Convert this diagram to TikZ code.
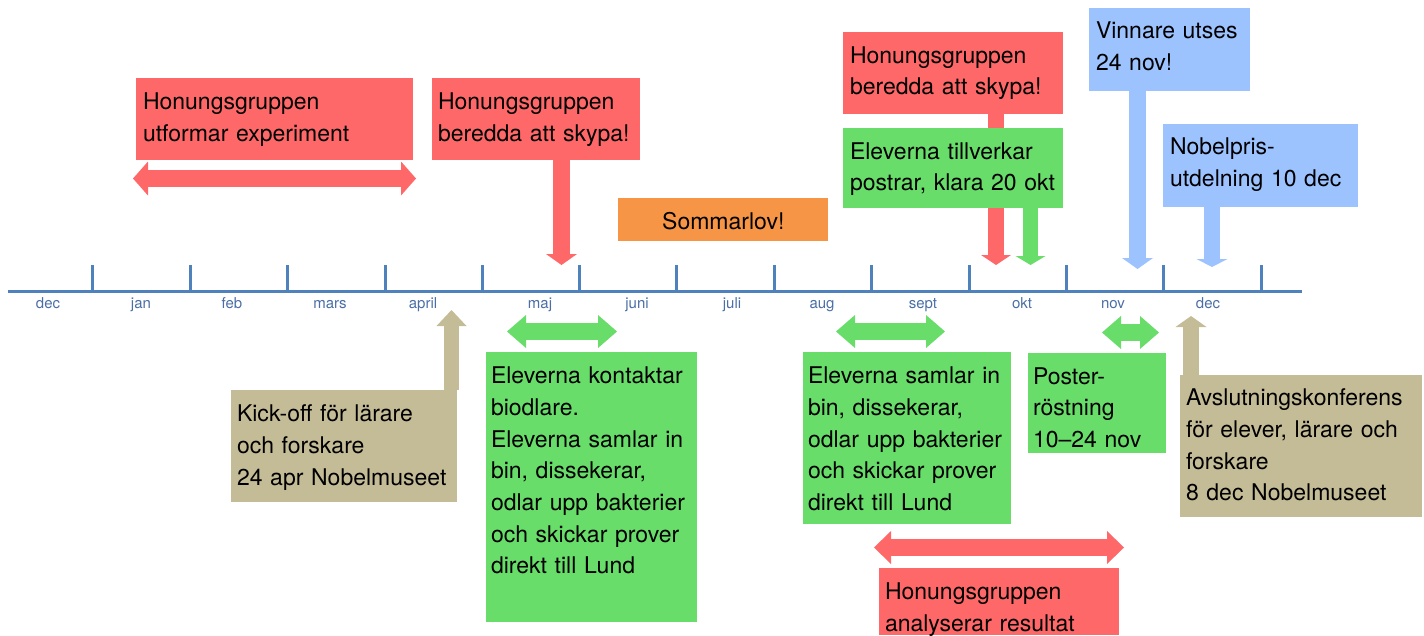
\documentclass[tikz,border=0pt]{standalone}
\usepackage{fontspec}
\setmainfont{TeX Gyre Heros}
\usetikzlibrary{arrows.meta,calc}
\definecolor{cred}{RGB}{255,104,104}
\definecolor{cgreen}{RGB}{104,221,106}
\definecolor{corange}{RGB}{246,149,69}
\definecolor{cblue}{RGB}{157,195,255}
\definecolor{ctan}{RGB}{196,188,150}
\definecolor{caxis}{RGB}{79,129,189}
\definecolor{clabel}{RGB}{74,110,165}
\newcommand\boxfont{\fontsize{23pt}{31.7pt}\selectfont}
\newcommand\monthfont{\fontsize{15pt}{18pt}\selectfont}
\begin{document}
\begin{tikzpicture}[x=1pt,y=-1pt,
  panel/.style n args={3}{fill=#1, draw=none, anchor=north west, inner sep=0pt, outer sep=0pt, minimum width=#2, minimum height=#3},
  txt/.style={anchor=north west, inner sep=0pt, outer sep=0pt, text width=300pt, align=left, font=\boxfont, text=black},
  mlab/.style={anchor=base, inner sep=0pt, font=\monthfont, text=clabel},
  axisline/.style={draw=caxis, line width=3pt},
  blockarrow/.style n args={4}{draw=#1, line width=#2, -{Triangle[width=#3, length=#4, line width=0pt]}},
  dblarrow/.style n args={4}{draw=#1, line width=#2, {Triangle[width=#3, length=#4, line width=0pt]}-{Triangle[width=#3, length=#4, line width=0pt]}}
]
\useasboundingbox (0,0) rectangle (1424,635);

% axis
\coordinate (ax0) at (8,291);
\coordinate (ax1) at (1302,291);
\draw[axisline] (ax0) -- (ax1);
\foreach \x in {92,190,287,385,482,579,676,774,871,969,1066,1163,1261}
  \draw[axisline] (\x,292) -- (\x,265);

% month labels
\node[mlab] (m0) at (48,308) {dec};
\node[mlab] (m1) at (141,308) {jan};
\node[mlab] (m2) at (232,308) {feb};
\node[mlab] (m3) at (330,308) {mars};
\node[mlab] (m4) at (423,308) {april};
\node[mlab] (m5) at (540,308) {maj};
\node[mlab] (m6) at (637,308) {juni};
\node[mlab] (m7) at (732,308) {juli};
\node[mlab] (m8) at (822,308) {aug};
\node[mlab] (m9) at (923,308) {sept};
\node[mlab] (m10) at (1022,308) {okt};
\node[mlab] (m11) at (1113,308) {nov};
\node[mlab] (m12) at (1208,308) {dec};

% box 1
\node[panel={cred}{277pt}{82pt}] (b1) at (136,78) {};
\node[txt] (t1) at ($(b1.north west)+(7,9.5)$) {\strut Honungsgruppen\\utformar experiment};
\coordinate (d1a) at (133,178.5);
\coordinate (d1b) at (416,178.5);
\draw[dblarrow={cred}{17pt}{34pt}{15pt}] (d1a) -- (d1b);

% box 2
\node[panel={cred}{208pt}{82pt}] (b2) at (432,78) {};
\node[txt] (t2) at ($(b2.north west)+(6,9.5)$) {\strut Honungsgruppen\\beredda att skypa!};
\coordinate (e2) at (561.5,265);
\draw[blockarrow={cred}{17pt}{31pt}{11pt}] (e2 |- b2.south) -- (e2);

% box 3
\node[panel={corange}{210pt}{43pt}] (b3) at (618,198) {};
\node[anchor=base west, inner sep=0pt, font=\boxfont] (t3) at (662,229) {Sommarlov!};

% box 4 + 5
\node[panel={cred}{220pt}{82pt}] (b4) at (843,32) {};
\node[txt] (t4) at ($(b4.north west)+(7,9)$) {\strut Honungsgruppen\\beredda att skypa!};
\coordinate (e4) at (996,265);
\draw[blockarrow={cred}{16pt}{30pt}{10pt}] (e4 |- b4.south) -- (e4);
\node[panel={cgreen}{220pt}{80pt}] (b5) at (843,128) {};
\node[txt] (t5) at ($(b5.north west)+(7,9)$) {\strut Eleverna tillverkar\\postrar, klara 20 okt};
\coordinate (e5) at (1030.5,265);
\draw[blockarrow={cgreen}{15pt}{30pt}{9pt}] (e5 |- b5.south) -- (e5);

% box 6
\node[panel={cblue}{161pt}{83pt}] (b6) at (1089,8) {};
\node[txt] (t6) at ($(b6.north west)+(7,8.5)$) {\strut Vinnare utses\\24 nov!};
\coordinate (e6) at (1137.5,269);
\draw[blockarrow={cblue}{17pt}{31pt}{11pt}] (e6 |- b6.south) -- (e6);

% box 7
\node[panel={cblue}{195pt}{83pt}] (b7) at (1163,124) {};
\node[txt] (t7) at ($(b7.north west)+(7,8.5)$) {\strut Nobelpris-\\utdelning 10 dec};
\coordinate (e7) at (1212,267);
\draw[blockarrow={cblue}{16pt}{31pt}{8pt}] (e7 |- b7.south) -- (e7);

% box 8 kick-off
\node[panel={ctan}{226pt}{112pt}] (b8) at (231,390) {};
\node[txt] (t8) at ($(b8.north west)+(6,9.5)$) {\strut Kick-off för lärare\\och forskare\\24 apr Nobelmuseet};
\coordinate (e8) at (451.5,310);
\draw[blockarrow={ctan}{15pt}{30pt}{16pt}] (e8 |- b8.north) -- (e8);

% box 9
\node[panel={cgreen}{211pt}{270pt}] (b9) at (486,352) {};
\node[txt] (t9) at ($(b9.north west)+(5,9.5)$) {\strut Eleverna kontaktar\\biodlare.\\Eleverna samlar in\\bin, dissekerar,\\odlar upp bakterier\\och skickar prover\\direkt till Lund};
\coordinate (d9a) at (507,331.5);
\coordinate (d9b) at (617,331.5);
\draw[dblarrow={cgreen}{17pt}{33pt}{19pt}] (d9a) -- (d9b);

% box 10
\node[panel={cgreen}{208pt}{172pt}] (b10) at (803,352) {};
\node[txt] (t10) at ($(b10.north west)+(5,9.5)$) {\strut Eleverna samlar in\\bin, dissekerar,\\odlar upp bakterier\\och skickar prover\\direkt till Lund};
\coordinate (d10a) at (836,331.5);
\coordinate (d10b) at (945,331.5);
\draw[dblarrow={cgreen}{17pt}{33pt}{19pt}] (d10a) -- (d10b);

% box 11
\node[panel={cgreen}{138pt}{100pt}] (b11) at (1028,353) {};
\node[txt] (t11) at ($(b11.north west)+(5,9)$) {\strut Poster-\\röstning\\10–24 nov};
\coordinate (d11a) at (1102,332.5);
\coordinate (d11b) at (1159,332.5);
\draw[dblarrow={cgreen}{17pt}{33pt}{19pt}] (d11a) -- (d11b);

% box 12
\node[panel={ctan}{242pt}{142pt}] (b12) at (1180,375) {};
\node[txt] (t12) at ($(b12.north west)+(6,8.5)$) {\strut Avslutningskonferens\\för elever, lärare och\\forskare\\8 dec Nobelmuseet};
\coordinate (e12) at (1191,316);
\draw[blockarrow={ctan}{16pt}{31pt}{11pt}] (e12 |- b12.north) -- (e12);

% box 13
\node[panel={cred}{240pt}{67pt}] (b13) at (879,568) {};
\node[txt] (t13) at ($(b13.north west)+(6,9.5)$) {\strut Honungsgruppen\\analyserar resultat};
\coordinate (d13a) at (874,547.5);
\coordinate (d13b) at (1124,547.5);
\draw[dblarrow={cred}{17pt}{33pt}{17pt}] (d13a) -- (d13b);
\end{tikzpicture}
\end{document}
